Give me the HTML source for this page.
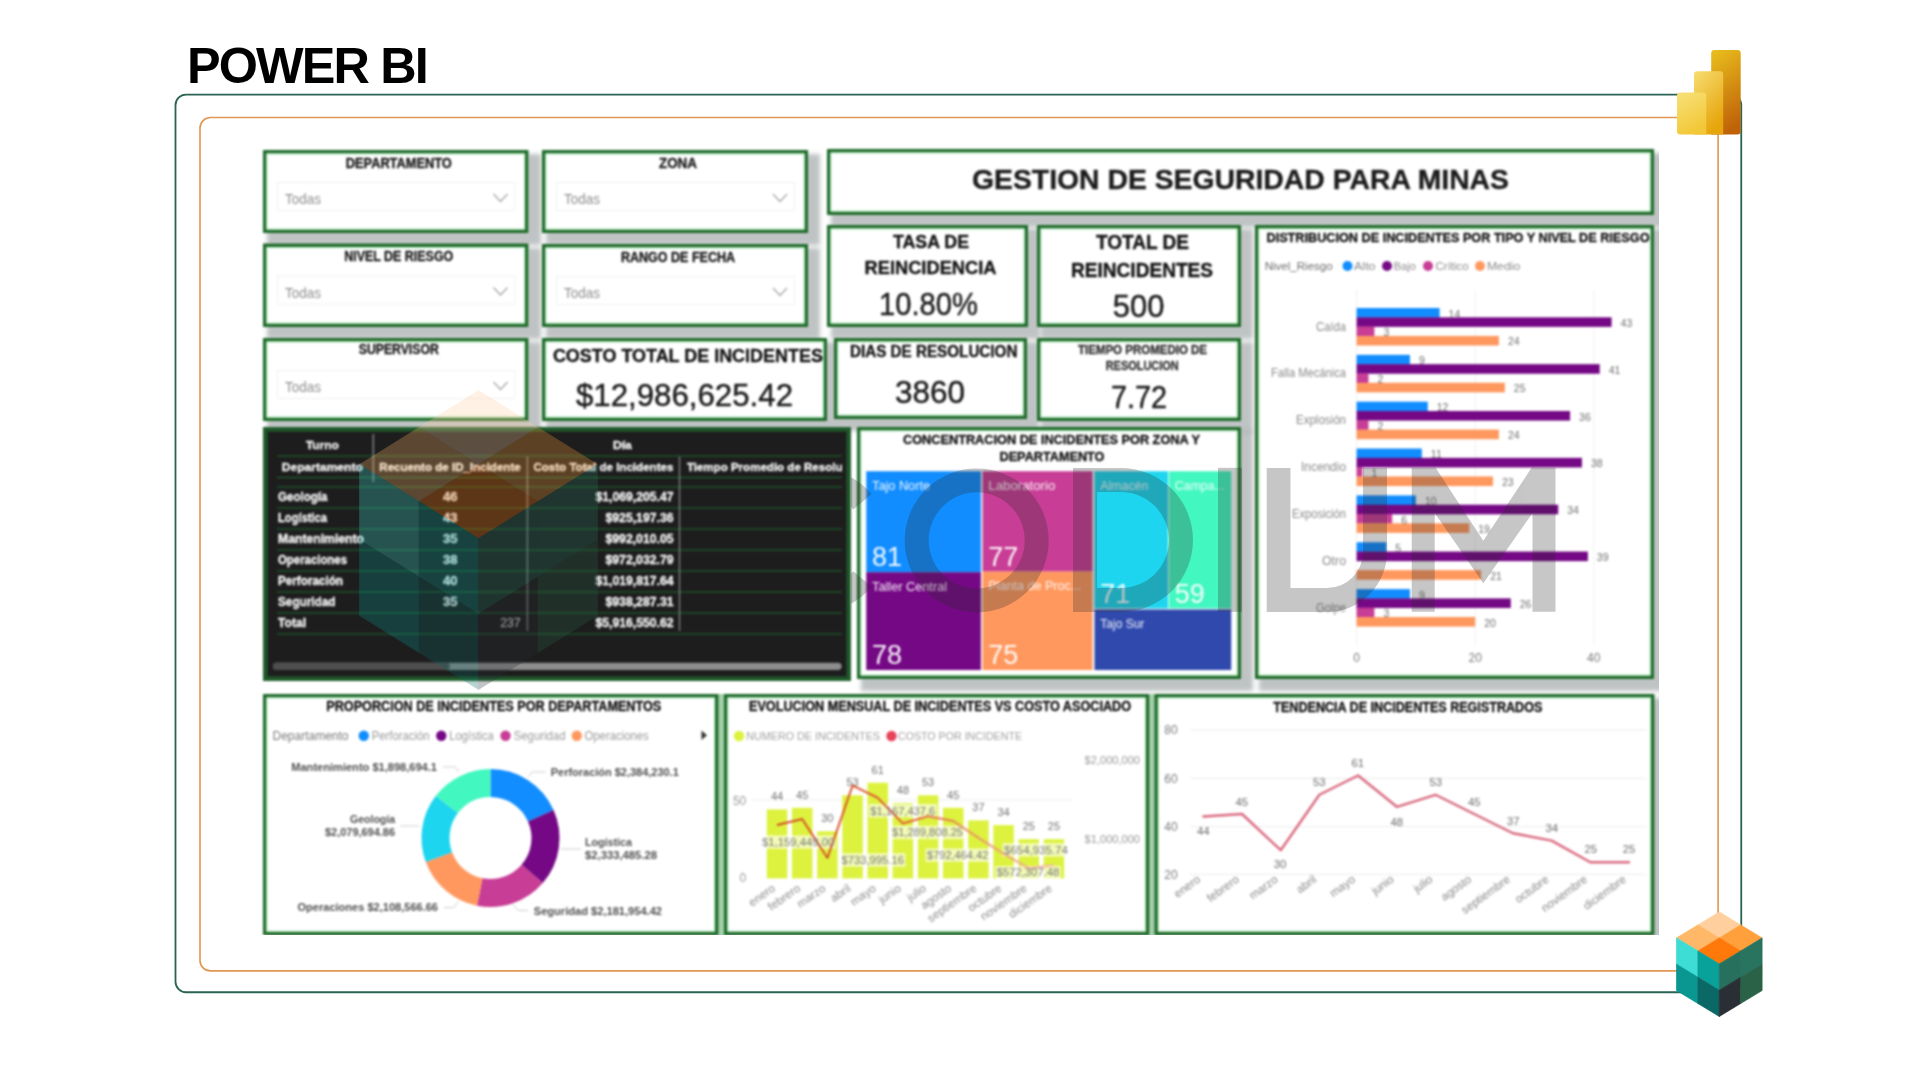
<!DOCTYPE html>
<html><head><meta charset="utf-8"><title>POWER BI</title>
<style>
html,body{margin:0;padding:0;background:#fff;}
body{width:1920px;height:1080px;position:relative;overflow:hidden;font-family:"Liberation Sans", sans-serif;}
#ttl{position:absolute;left:187px;top:38px;font-size:50.4px;font-weight:bold;color:#000;letter-spacing:-1.85px;line-height:56px;white-space:nowrap}
.fr{position:absolute;box-sizing:border-box;border-radius:11px}
#fg{left:175px;top:94px;width:1567px;height:899px;border:2px solid #2b6554}
#fo{left:199.5px;top:117px;width:1519px;height:855px;border:1.6px solid #e29a55}
#clip{position:absolute;left:0;top:0;width:1658.5px;height:934.8px;overflow:hidden}
#dash{position:absolute;left:0;top:0;width:1920px;height:1080px;filter:blur(0.9px)}
.card{position:absolute;background:#fff;box-shadow:8px 8px 4px 4px rgba(140,148,150,.56)}
.card.dark{background:#1d1d1d;box-shadow:none}
#dash svg{position:absolute;left:0;top:0}
svg text{font-family:"Liberation Sans", sans-serif}
</style></head><body>
<div id="ttl">POWER BI</div>
<svg style="position:absolute;left:0;top:0" width="1920" height="1080" viewBox="0 0 1920 1080">
<rect x="175.5" y="94.6" width="1565.75" height="897.65" rx="10.5" fill="none" stroke="#2a6353" stroke-width="1.8"/>
<rect x="200" y="117.5" width="1518.1" height="853.4" rx="10.5" fill="none" stroke="#E19752" stroke-width="1.6"/>
</svg>
<div id="clip"><div id="dash">
<div class="card" style="left:263px;top:150px;width:265.5px;height:83px"></div>
<div class="card" style="left:542px;top:150px;width:266px;height:83px"></div>
<div class="card" style="left:827px;top:149px;width:827px;height:66px"></div>
<div class="card" style="left:263px;top:243.5px;width:265.5px;height:83.5px"></div>
<div class="card" style="left:542px;top:244px;width:266px;height:83px"></div>
<div class="card" style="left:827px;top:225px;width:201px;height:102px"></div>
<div class="card" style="left:1037px;top:225px;width:204px;height:102px"></div>
<div class="card" style="left:1255px;top:225px;width:399px;height:454px"></div>
<div class="card" style="left:263px;top:338px;width:265.5px;height:83px"></div>
<div class="card" style="left:542px;top:338px;width:285px;height:83px"></div>
<div class="card" style="left:834px;top:338px;width:193px;height:81px"></div>
<div class="card" style="left:1037px;top:338px;width:204px;height:83px"></div>
<div class="card dark" style="left:263px;top:427px;width:588px;height:254px"></div>
<div class="card" style="left:857px;top:427px;width:384px;height:252px"></div>
<div class="card" style="left:263px;top:694px;width:455.5px;height:241.20000000000005px"></div>
<div class="card" style="left:724px;top:694px;width:425.20000000000005px;height:241.20000000000005px"></div>
<div class="card" style="left:1154.4px;top:694px;width:500.0px;height:241.20000000000005px"></div>
<svg width="1920" height="1080" viewBox="0 0 1920 1080">
<rect x="718.5" y="694" width="5.5" height="242" fill="#a3cfab"/><rect x="1149.2" y="694" width="5.2" height="242" fill="#a3cfab"/>
<rect x="264.75" y="151.75" width="262.00" height="79.50" fill="none" stroke="#1f6b2a" stroke-width="3.5"/>
<rect x="267.10" y="154.10" width="257.30" height="74.80" fill="none" stroke="#c4f2cd" stroke-width="1.3"/>
<rect x="543.75" y="151.75" width="262.50" height="79.50" fill="none" stroke="#1f6b2a" stroke-width="3.5"/>
<rect x="546.10" y="154.10" width="257.80" height="74.80" fill="none" stroke="#c4f2cd" stroke-width="1.3"/>
<rect x="828.75" y="150.75" width="823.50" height="62.50" fill="none" stroke="#1f6b2a" stroke-width="3.5"/>
<rect x="831.10" y="153.10" width="818.80" height="57.80" fill="none" stroke="#c4f2cd" stroke-width="1.3"/>
<rect x="264.75" y="245.25" width="262.00" height="80.00" fill="none" stroke="#1f6b2a" stroke-width="3.5"/>
<rect x="267.10" y="247.60" width="257.30" height="75.30" fill="none" stroke="#c4f2cd" stroke-width="1.3"/>
<rect x="543.75" y="245.75" width="262.50" height="79.50" fill="none" stroke="#1f6b2a" stroke-width="3.5"/>
<rect x="546.10" y="248.10" width="257.80" height="74.80" fill="none" stroke="#c4f2cd" stroke-width="1.3"/>
<rect x="828.75" y="226.75" width="197.50" height="98.50" fill="none" stroke="#1f6b2a" stroke-width="3.5"/>
<rect x="831.10" y="229.10" width="192.80" height="93.80" fill="none" stroke="#c4f2cd" stroke-width="1.3"/>
<rect x="1038.75" y="226.75" width="200.50" height="98.50" fill="none" stroke="#1f6b2a" stroke-width="3.5"/>
<rect x="1041.10" y="229.10" width="195.80" height="93.80" fill="none" stroke="#c4f2cd" stroke-width="1.3"/>
<rect x="1256.75" y="226.75" width="395.50" height="450.50" fill="none" stroke="#1f6b2a" stroke-width="3.5"/>
<rect x="1259.10" y="229.10" width="390.80" height="445.80" fill="none" stroke="#c4f2cd" stroke-width="1.3"/>
<rect x="264.75" y="339.75" width="262.00" height="79.50" fill="none" stroke="#1f6b2a" stroke-width="3.5"/>
<rect x="267.10" y="342.10" width="257.30" height="74.80" fill="none" stroke="#c4f2cd" stroke-width="1.3"/>
<rect x="543.75" y="339.75" width="281.50" height="79.50" fill="none" stroke="#1f6b2a" stroke-width="3.5"/>
<rect x="546.10" y="342.10" width="276.80" height="74.80" fill="none" stroke="#c4f2cd" stroke-width="1.3"/>
<rect x="835.75" y="339.75" width="189.50" height="77.50" fill="none" stroke="#1f6b2a" stroke-width="3.5"/>
<rect x="838.10" y="342.10" width="184.80" height="72.80" fill="none" stroke="#c4f2cd" stroke-width="1.3"/>
<rect x="1038.75" y="339.75" width="200.50" height="79.50" fill="none" stroke="#1f6b2a" stroke-width="3.5"/>
<rect x="1041.10" y="342.10" width="195.80" height="74.80" fill="none" stroke="#c4f2cd" stroke-width="1.3"/>
<rect x="264.75" y="428.75" width="584.50" height="250.50" fill="none" stroke="#1f5e2c" stroke-width="3.5"/>
<rect x="267.10" y="431.10" width="579.80" height="245.80" fill="none" stroke="#23552d" stroke-width="1.3"/>
<rect x="858.75" y="428.75" width="380.50" height="248.50" fill="none" stroke="#1f6b2a" stroke-width="3.5"/>
<rect x="861.10" y="431.10" width="375.80" height="243.80" fill="none" stroke="#c4f2cd" stroke-width="1.3"/>
<rect x="264.75" y="695.75" width="452.00" height="237.70" fill="none" stroke="#1f6b2a" stroke-width="3.5"/>
<rect x="267.10" y="698.10" width="447.30" height="233.00" fill="none" stroke="#c4f2cd" stroke-width="1.3"/>
<rect x="725.75" y="695.75" width="421.70" height="237.70" fill="none" stroke="#1f6b2a" stroke-width="3.5"/>
<rect x="728.10" y="698.10" width="417.00" height="233.00" fill="none" stroke="#c4f2cd" stroke-width="1.3"/>
<rect x="1156.15" y="695.75" width="496.50" height="237.70" fill="none" stroke="#1f6b2a" stroke-width="3.5"/>
<rect x="1158.50" y="698.10" width="491.80" height="233.00" fill="none" stroke="#c4f2cd" stroke-width="1.3"/>
<text x="398.75" y="167.5" font-size="14" font-weight="bold" stroke="#1a1a1a" stroke-width=".35" fill="#1a1a1a" text-anchor="middle" textLength="106" lengthAdjust="spacingAndGlyphs">DEPARTAMENTO</text>
<rect x="277.5" y="182.5" width="237.5" height="28" fill="#fff" stroke="#f1f1f1" stroke-width="1"/>
<text x="285" y="204" font-size="14.5" fill="#8f8f8f" textLength="36" lengthAdjust="spacingAndGlyphs">Todas</text>
<path d="M493.5 194 l7 7.5 l7 -7.5" fill="none" stroke="#a8a8a8" stroke-width="1.3"/>
<text x="678.0" y="167.5" font-size="14" font-weight="bold" stroke="#1a1a1a" stroke-width=".35" fill="#1a1a1a" text-anchor="middle" textLength="38" lengthAdjust="spacingAndGlyphs">ZONA</text>
<rect x="556.5" y="182.5" width="238" height="28" fill="#fff" stroke="#f1f1f1" stroke-width="1"/>
<text x="564" y="204" font-size="14.5" fill="#8f8f8f" textLength="36" lengthAdjust="spacingAndGlyphs">Todas</text>
<path d="M773 194 l7 7.5 l7 -7.5" fill="none" stroke="#a8a8a8" stroke-width="1.3"/>
<text x="398.75" y="261.0" font-size="14" font-weight="bold" stroke="#1a1a1a" stroke-width=".35" fill="#1a1a1a" text-anchor="middle" textLength="109" lengthAdjust="spacingAndGlyphs">NIVEL DE RIESGO</text>
<rect x="277.5" y="276.0" width="237.5" height="28" fill="#fff" stroke="#f1f1f1" stroke-width="1"/>
<text x="285" y="297.5" font-size="14.5" fill="#8f8f8f" textLength="36" lengthAdjust="spacingAndGlyphs">Todas</text>
<path d="M493.5 287.5 l7 7.5 l7 -7.5" fill="none" stroke="#a8a8a8" stroke-width="1.3"/>
<text x="678.0" y="261.5" font-size="14" font-weight="bold" stroke="#1a1a1a" stroke-width=".35" fill="#1a1a1a" text-anchor="middle" textLength="114" lengthAdjust="spacingAndGlyphs">RANGO DE FECHA</text>
<rect x="556.5" y="276.5" width="238" height="28" fill="#fff" stroke="#f1f1f1" stroke-width="1"/>
<text x="564" y="298" font-size="14.5" fill="#8f8f8f" textLength="36" lengthAdjust="spacingAndGlyphs">Todas</text>
<path d="M773 288 l7 7.5 l7 -7.5" fill="none" stroke="#a8a8a8" stroke-width="1.3"/>
<text x="398.75" y="354.0" font-size="14" font-weight="bold" stroke="#1a1a1a" stroke-width=".35" fill="#1a1a1a" text-anchor="middle" textLength="80" lengthAdjust="spacingAndGlyphs">SUPERVISOR</text>
<rect x="277.5" y="370.5" width="237.5" height="28" fill="#fff" stroke="#f1f1f1" stroke-width="1"/>
<text x="285" y="392" font-size="14.5" fill="#8f8f8f" textLength="36" lengthAdjust="spacingAndGlyphs">Todas</text>
<path d="M493.5 382 l7 7.5 l7 -7.5" fill="none" stroke="#a8a8a8" stroke-width="1.3"/>
<text x="1240.5" y="189" font-size="28" font-weight="bold" stroke="#1c1c1c" stroke-width=".35" fill="#1c1c1c" text-anchor="middle" textLength="537" lengthAdjust="spacingAndGlyphs">GESTION DE SEGURIDAD PARA MINAS</text>
<text x="931" y="248" font-size="17.5" font-weight="bold" stroke="#141414" stroke-width=".35" fill="#141414" text-anchor="middle" textLength="76" lengthAdjust="spacingAndGlyphs">TASA DE</text>
<text x="930.5" y="273.5" font-size="17.5" font-weight="bold" stroke="#141414" stroke-width=".35" fill="#141414" text-anchor="middle" textLength="132" lengthAdjust="spacingAndGlyphs">REINCIDENCIA</text>
<text x="928.5" y="315" font-size="32" fill="#1a1a1a" text-anchor="middle" textLength="99" lengthAdjust="spacingAndGlyphs" stroke="#1a1a1a" stroke-width=".45">10.80%</text>
<text x="1142.5" y="249" font-size="19.5" font-weight="bold" stroke="#141414" stroke-width=".35" fill="#141414" text-anchor="middle" textLength="93" lengthAdjust="spacingAndGlyphs">TOTAL DE</text>
<text x="1142" y="277" font-size="19.5" font-weight="bold" stroke="#141414" stroke-width=".35" fill="#141414" text-anchor="middle" textLength="142" lengthAdjust="spacingAndGlyphs">REINCIDENTES</text>
<text x="1138.6" y="316.5" font-size="32" fill="#1a1a1a" text-anchor="middle" textLength="51.6" lengthAdjust="spacingAndGlyphs" stroke="#1a1a1a" stroke-width=".45">500</text>
<text x="687.9" y="362.3" font-size="18" font-weight="bold" stroke="#141414" stroke-width=".35" fill="#141414" text-anchor="middle" textLength="270" lengthAdjust="spacingAndGlyphs">COSTO TOTAL DE INCIDENTES</text>
<text x="684.5" y="406" font-size="31" fill="#1a1a1a" text-anchor="middle" textLength="217" lengthAdjust="spacingAndGlyphs" stroke="#1a1a1a" stroke-width=".45">$12,986,625.42</text>
<text x="933.7" y="357.3" font-size="16" font-weight="bold" stroke="#141414" stroke-width=".35" fill="#141414" text-anchor="middle" textLength="167.5" lengthAdjust="spacingAndGlyphs">DIAS DE RESOLUCION</text>
<text x="930" y="402.7" font-size="32" fill="#1a1a1a" text-anchor="middle" textLength="70" lengthAdjust="spacingAndGlyphs" stroke="#1a1a1a" stroke-width=".45">3860</text>
<text x="1142.5" y="354" font-size="12" font-weight="bold" stroke="#333" stroke-width=".35" fill="#333" text-anchor="middle" textLength="129" lengthAdjust="spacingAndGlyphs">TIEMPO PROMEDIO DE</text>
<text x="1142.2" y="369.7" font-size="12" font-weight="bold" stroke="#333" stroke-width=".35" fill="#333" text-anchor="middle" textLength="73" lengthAdjust="spacingAndGlyphs">RESOLUCION</text>
<text x="1139" y="408.4" font-size="32" fill="#1a1a1a" text-anchor="middle" textLength="56" lengthAdjust="spacingAndGlyphs" stroke="#1a1a1a" stroke-width=".45">7.72</text>
<text x="1458" y="242" font-size="13.5" font-weight="bold" stroke="#141414" stroke-width=".35" fill="#141414" text-anchor="middle" textLength="383" lengthAdjust="spacingAndGlyphs">DISTRIBUCION DE INCIDENTES POR TIPO Y NIVEL DE RIESGO</text>
<text x="1264.7" y="270.4" font-size="11.5" fill="#6a6a6a" textLength="68" lengthAdjust="spacingAndGlyphs">Nivel_Riesgo</text>
<circle cx="1347.5" cy="266" r="5" fill="#118DFF"/>
<text x="1354" y="270.4" font-size="11.5" fill="#8a8a8a" textLength="21.6" lengthAdjust="spacingAndGlyphs">Alto</text>
<circle cx="1387" cy="266" r="5" fill="#750985"/>
<text x="1393.8" y="270.4" font-size="11.5" fill="#8a8a8a" textLength="22" lengthAdjust="spacingAndGlyphs">Bajo</text>
<circle cx="1428" cy="266" r="5" fill="#C83D95"/>
<text x="1435.6" y="270.4" font-size="11.5" fill="#8a8a8a" textLength="33" lengthAdjust="spacingAndGlyphs">Crítico</text>
<circle cx="1480" cy="266" r="5" fill="#FF985E"/>
<text x="1486.9" y="270.4" font-size="11.5" fill="#8a8a8a" textLength="33.4" lengthAdjust="spacingAndGlyphs">Medio</text>
<line x1="1356.6" y1="290" x2="1356.6" y2="645" stroke="#efefef" stroke-width="1"/>
<text x="1356.6" y="661.5" font-size="12" fill="#7a7a7a" text-anchor="middle">0</text>
<line x1="1475.2" y1="290" x2="1475.2" y2="645" stroke="#efefef" stroke-width="1"/>
<text x="1475.1999999999998" y="661.5" font-size="12" fill="#7a7a7a" text-anchor="middle">20</text>
<line x1="1593.8" y1="290" x2="1593.8" y2="645" stroke="#efefef" stroke-width="1"/>
<text x="1593.8" y="661.5" font-size="12" fill="#7a7a7a" text-anchor="middle">40</text>
<text x="1346" y="330.5" font-size="12" fill="#8a8a8a" text-anchor="end" textLength="30" lengthAdjust="spacingAndGlyphs">Caída</text>
<rect x="1356.60" y="308.00" width="83.02" height="9.60" fill="#118DFF"/>
<rect x="1356.60" y="317.30" width="254.99" height="9.60" fill="#750985"/>
<rect x="1356.60" y="326.60" width="17.79" height="9.60" fill="#C83D95"/>
<rect x="1356.60" y="335.90" width="142.32" height="9.60" fill="#FF985E"/>
<text x="1448.62" y="317.5" font-size="10.5" fill="#6e6e6e">14</text>
<text x="1620.59" y="326.8" font-size="10.5" fill="#6e6e6e">43</text>
<text x="1383.3899999999999" y="336.1" font-size="10.5" fill="#6e6e6e">3</text>
<text x="1507.9199999999998" y="345.4" font-size="10.5" fill="#6e6e6e">24</text>
<text x="1346" y="377.35" font-size="12" fill="#8a8a8a" text-anchor="end" textLength="75" lengthAdjust="spacingAndGlyphs">Falla Mecánica</text>
<rect x="1356.60" y="354.85" width="53.37" height="9.60" fill="#118DFF"/>
<rect x="1356.60" y="364.15" width="243.13" height="9.60" fill="#750985"/>
<rect x="1356.60" y="373.45" width="11.86" height="9.60" fill="#C83D95"/>
<rect x="1356.60" y="382.75" width="148.25" height="9.60" fill="#FF985E"/>
<text x="1418.9699999999998" y="364.35" font-size="10.5" fill="#6e6e6e">9</text>
<text x="1608.73" y="373.65000000000003" font-size="10.5" fill="#6e6e6e">41</text>
<text x="1377.4599999999998" y="382.95000000000005" font-size="10.5" fill="#6e6e6e">2</text>
<text x="1513.85" y="392.25" font-size="10.5" fill="#6e6e6e">25</text>
<text x="1346" y="424.2" font-size="12" fill="#8a8a8a" text-anchor="end" textLength="50" lengthAdjust="spacingAndGlyphs">Explosión</text>
<rect x="1356.60" y="401.70" width="71.16" height="9.60" fill="#118DFF"/>
<rect x="1356.60" y="411.00" width="213.48" height="9.60" fill="#750985"/>
<rect x="1356.60" y="420.30" width="11.86" height="9.60" fill="#C83D95"/>
<rect x="1356.60" y="429.60" width="142.32" height="9.60" fill="#FF985E"/>
<text x="1436.76" y="411.2" font-size="10.5" fill="#6e6e6e">12</text>
<text x="1579.08" y="420.5" font-size="10.5" fill="#6e6e6e">36</text>
<text x="1377.4599999999998" y="429.8" font-size="10.5" fill="#6e6e6e">2</text>
<text x="1507.9199999999998" y="439.09999999999997" font-size="10.5" fill="#6e6e6e">24</text>
<text x="1346" y="471.05" font-size="12" fill="#8a8a8a" text-anchor="end" textLength="45" lengthAdjust="spacingAndGlyphs">Incendio</text>
<rect x="1356.60" y="448.55" width="65.23" height="9.60" fill="#118DFF"/>
<rect x="1356.60" y="457.85" width="225.34" height="9.60" fill="#750985"/>
<rect x="1356.60" y="467.15" width="5.93" height="9.60" fill="#C83D95"/>
<rect x="1356.60" y="476.45" width="136.39" height="9.60" fill="#FF985E"/>
<text x="1430.83" y="458.05" font-size="10.5" fill="#6e6e6e">11</text>
<text x="1590.9399999999998" y="467.35" font-size="10.5" fill="#6e6e6e">38</text>
<text x="1371.53" y="476.65000000000003" font-size="10.5" fill="#6e6e6e">1</text>
<text x="1501.9899999999998" y="485.95" font-size="10.5" fill="#6e6e6e">23</text>
<text x="1346" y="517.9" font-size="12" fill="#8a8a8a" text-anchor="end" textLength="54" lengthAdjust="spacingAndGlyphs">Exposición</text>
<rect x="1356.60" y="495.40" width="59.30" height="9.60" fill="#118DFF"/>
<rect x="1356.60" y="504.70" width="201.62" height="9.60" fill="#750985"/>
<rect x="1356.60" y="514.00" width="35.58" height="9.60" fill="#C83D95"/>
<rect x="1356.60" y="523.30" width="112.67" height="9.60" fill="#FF985E"/>
<text x="1424.8999999999999" y="504.9" font-size="10.5" fill="#6e6e6e">10</text>
<text x="1567.2199999999998" y="514.2" font-size="10.5" fill="#6e6e6e">34</text>
<text x="1401.1799999999998" y="523.5" font-size="10.5" fill="#6e6e6e">6</text>
<text x="1478.27" y="532.8" font-size="10.5" fill="#6e6e6e">19</text>
<text x="1346" y="564.75" font-size="12" fill="#8a8a8a" text-anchor="end" textLength="24" lengthAdjust="spacingAndGlyphs">Otro</text>
<rect x="1356.60" y="542.25" width="29.65" height="9.60" fill="#118DFF"/>
<rect x="1356.60" y="551.55" width="231.27" height="9.60" fill="#750985"/>
<rect x="1356.60" y="570.15" width="124.53" height="9.60" fill="#FF985E"/>
<text x="1395.25" y="551.75" font-size="10.5" fill="#6e6e6e">5</text>
<text x="1596.87" y="561.05" font-size="10.5" fill="#6e6e6e">39</text>
<text x="1490.1299999999999" y="579.65" font-size="10.5" fill="#6e6e6e">21</text>
<text x="1346" y="611.6" font-size="12" fill="#8a8a8a" text-anchor="end" textLength="30" lengthAdjust="spacingAndGlyphs">Golpe</text>
<rect x="1356.60" y="589.10" width="53.37" height="9.60" fill="#118DFF"/>
<rect x="1356.60" y="598.40" width="154.18" height="9.60" fill="#750985"/>
<rect x="1356.60" y="607.70" width="17.79" height="9.60" fill="#C83D95"/>
<rect x="1356.60" y="617.00" width="118.60" height="9.60" fill="#FF985E"/>
<text x="1418.9699999999998" y="598.6" font-size="10.5" fill="#6e6e6e">9</text>
<text x="1519.78" y="607.9" font-size="10.5" fill="#6e6e6e">26</text>
<text x="1383.3899999999999" y="617.2" font-size="10.5" fill="#6e6e6e">3</text>
<text x="1484.1999999999998" y="626.5" font-size="10.5" fill="#6e6e6e">20</text>
<line x1="277" y1="456" x2="842" y2="456" stroke="#1f7a35" stroke-width="1" opacity=".85"/>
<line x1="277" y1="477.5" x2="842" y2="477.5" stroke="#1f7a35" stroke-width="1" opacity=".85"/>
<line x1="277" y1="487" x2="842" y2="487" stroke="#1f7a35" stroke-width="1" opacity=".85"/>
<line x1="277" y1="508" x2="842" y2="508" stroke="#1f7a35" stroke-width="1" opacity=".85"/>
<line x1="277" y1="529" x2="842" y2="529" stroke="#1f7a35" stroke-width="1" opacity=".85"/>
<line x1="277" y1="550" x2="842" y2="550" stroke="#1f7a35" stroke-width="1" opacity=".85"/>
<line x1="277" y1="571" x2="842" y2="571" stroke="#1f7a35" stroke-width="1" opacity=".85"/>
<line x1="277" y1="592" x2="842" y2="592" stroke="#1f7a35" stroke-width="1" opacity=".85"/>
<line x1="277" y1="613" x2="842" y2="613" stroke="#1f7a35" stroke-width="1" opacity=".85"/>
<line x1="277" y1="634" x2="842" y2="634" stroke="#1f7a35" stroke-width="1" opacity=".85"/>
<line x1="373.3" y1="434" x2="373.3" y2="482" stroke="#9a9a9a" stroke-width="1.2"/>
<line x1="527.4" y1="456.5" x2="527.4" y2="631" stroke="#8a8a8a" stroke-width="1.2"/>
<line x1="679.5" y1="456.5" x2="679.5" y2="631" stroke="#8a8a8a" stroke-width="1.2"/>
<text x="322.4" y="448.6" font-size="11.5" font-weight="bold" stroke="#f4f4f4" stroke-width=".35" fill="#f4f4f4" text-anchor="middle" textLength="33" lengthAdjust="spacingAndGlyphs">Turno</text>
<text x="622.4" y="448.6" font-size="11.5" font-weight="bold" stroke="#f4f4f4" stroke-width=".35" fill="#f4f4f4" text-anchor="middle" textLength="19" lengthAdjust="spacingAndGlyphs">Día</text>
<text x="281.8" y="470.8" font-size="11.5" font-weight="bold" stroke="#f4f4f4" stroke-width=".35" fill="#f4f4f4" textLength="81" lengthAdjust="spacingAndGlyphs">Departamento</text>
<text x="379.3" y="470.8" font-size="11.5" font-weight="bold" stroke="#f4f4f4" stroke-width=".35" fill="#f4f4f4" textLength="141.4" lengthAdjust="spacingAndGlyphs">Recuento de ID_Incidente</text>
<text x="533.4" y="470.8" font-size="11.5" font-weight="bold" stroke="#f4f4f4" stroke-width=".35" fill="#f4f4f4" textLength="140" lengthAdjust="spacingAndGlyphs">Costo Total de Incidentes</text>
<text x="686.9" y="470.8" font-size="11.5" font-weight="bold" stroke="#f4f4f4" stroke-width=".35" fill="#f4f4f4" textLength="155.6" lengthAdjust="spacingAndGlyphs">Tiempo Promedio de Resolu</text>
<text x="278" y="501.0" font-size="12" font-weight="bold" stroke="#f4f4f4" stroke-width=".35" fill="#f4f4f4" textLength="49.5" lengthAdjust="spacingAndGlyphs">Geología</text>
<text x="450.2" y="501.0" font-size="12" font-weight="bold" stroke="#e8eef0" stroke-width=".35" fill="#e8eef0" text-anchor="middle" textLength="14.5" lengthAdjust="spacingAndGlyphs">46</text>
<text x="673.5" y="501.0" font-size="12" font-weight="bold" stroke="#f4f4f4" stroke-width=".35" fill="#f4f4f4" text-anchor="end" textLength="78" lengthAdjust="spacingAndGlyphs">$1,069,205.47</text>
<text x="278" y="521.95" font-size="12" font-weight="bold" stroke="#f4f4f4" stroke-width=".35" fill="#f4f4f4" textLength="49" lengthAdjust="spacingAndGlyphs">Logística</text>
<text x="450.2" y="521.95" font-size="12" font-weight="bold" stroke="#e8eef0" stroke-width=".35" fill="#e8eef0" text-anchor="middle" textLength="14.5" lengthAdjust="spacingAndGlyphs">43</text>
<text x="673.5" y="521.95" font-size="12" font-weight="bold" stroke="#f4f4f4" stroke-width=".35" fill="#f4f4f4" text-anchor="end" textLength="68" lengthAdjust="spacingAndGlyphs">$925,197.36</text>
<text x="278" y="542.9" font-size="12" font-weight="bold" stroke="#f4f4f4" stroke-width=".35" fill="#f4f4f4" textLength="86" lengthAdjust="spacingAndGlyphs">Mantenimiento</text>
<text x="450.2" y="542.9" font-size="12" font-weight="bold" stroke="#e8eef0" stroke-width=".35" fill="#e8eef0" text-anchor="middle" textLength="14.5" lengthAdjust="spacingAndGlyphs">35</text>
<text x="673.5" y="542.9" font-size="12" font-weight="bold" stroke="#f4f4f4" stroke-width=".35" fill="#f4f4f4" text-anchor="end" textLength="68" lengthAdjust="spacingAndGlyphs">$992,010.05</text>
<text x="278" y="563.85" font-size="12" font-weight="bold" stroke="#f4f4f4" stroke-width=".35" fill="#f4f4f4" textLength="69" lengthAdjust="spacingAndGlyphs">Operaciones</text>
<text x="450.2" y="563.85" font-size="12" font-weight="bold" stroke="#e8eef0" stroke-width=".35" fill="#e8eef0" text-anchor="middle" textLength="14.5" lengthAdjust="spacingAndGlyphs">38</text>
<text x="673.5" y="563.85" font-size="12" font-weight="bold" stroke="#f4f4f4" stroke-width=".35" fill="#f4f4f4" text-anchor="end" textLength="68" lengthAdjust="spacingAndGlyphs">$972,032.79</text>
<text x="278" y="584.8" font-size="12" font-weight="bold" stroke="#f4f4f4" stroke-width=".35" fill="#f4f4f4" textLength="65" lengthAdjust="spacingAndGlyphs">Perforación</text>
<text x="450.2" y="584.8" font-size="12" font-weight="bold" stroke="#e8eef0" stroke-width=".35" fill="#e8eef0" text-anchor="middle" textLength="14.5" lengthAdjust="spacingAndGlyphs">40</text>
<text x="673.5" y="584.8" font-size="12" font-weight="bold" stroke="#f4f4f4" stroke-width=".35" fill="#f4f4f4" text-anchor="end" textLength="78" lengthAdjust="spacingAndGlyphs">$1,019,817.64</text>
<text x="278" y="605.75" font-size="12" font-weight="bold" stroke="#f4f4f4" stroke-width=".35" fill="#f4f4f4" textLength="57.5" lengthAdjust="spacingAndGlyphs">Seguridad</text>
<text x="450.2" y="605.75" font-size="12" font-weight="bold" stroke="#e8eef0" stroke-width=".35" fill="#e8eef0" text-anchor="middle" textLength="14.5" lengthAdjust="spacingAndGlyphs">35</text>
<text x="673.5" y="605.75" font-size="12" font-weight="bold" stroke="#f4f4f4" stroke-width=".35" fill="#f4f4f4" text-anchor="end" textLength="68" lengthAdjust="spacingAndGlyphs">$938,287.31</text>
<text x="278" y="626.5" font-size="12" font-weight="bold" stroke="#f4f4f4" stroke-width=".35" fill="#f4f4f4" textLength="28" lengthAdjust="spacingAndGlyphs">Total</text>
<text x="520.7" y="626.5" font-size="12" fill="#dcdcdc" text-anchor="end" textLength="20.5" lengthAdjust="spacingAndGlyphs">237</text>
<text x="673.5" y="626.5" font-size="12" font-weight="bold" stroke="#f4f4f4" stroke-width=".35" fill="#f4f4f4" text-anchor="end" textLength="78" lengthAdjust="spacingAndGlyphs">$5,916,550.62</text>
<rect x="272.9" y="662.7" width="568.7" height="7.2" rx="3.6" fill="#8d8d8d"/>
<rect x="272.9" y="662.7" width="177" height="7.2" rx="3.6" fill="#4e4e4e"/>
<text x="1051.5" y="443.75" font-size="13" font-weight="bold" stroke="#141414" stroke-width=".35" fill="#141414" text-anchor="middle" textLength="297" lengthAdjust="spacingAndGlyphs">CONCENTRACION DE INCIDENTES POR ZONA Y</text>
<text x="1052" y="461.25" font-size="13" font-weight="bold" stroke="#141414" stroke-width=".35" fill="#141414" text-anchor="middle" textLength="105" lengthAdjust="spacingAndGlyphs">DEPARTAMENTO</text>
<rect x="866.25" y="471.25" width="114.65" height="100.95" fill="#118DFF"/>
<text x="872.05" y="489.55" font-size="13.5" fill="#ffffff" textLength="58" lengthAdjust="spacingAndGlyphs" opacity=".93">Tajo Norte</text>
<text x="872.05" y="566.3000000000001" font-size="28" fill="#ffffff" textLength="30" lengthAdjust="spacingAndGlyphs" opacity=".95">81</text>
<rect x="866.25" y="572.20" width="114.65" height="97.80" fill="#750985"/>
<text x="872.05" y="590.5" font-size="13.5" fill="#ffffff" textLength="75" lengthAdjust="spacingAndGlyphs" opacity=".93">Taller Central</text>
<text x="872.05" y="664.1" font-size="28" fill="#ffffff" textLength="30" lengthAdjust="spacingAndGlyphs" opacity=".95">78</text>
<rect x="982.50" y="471.25" width="110.00" height="100.35" fill="#C83D95"/>
<text x="988.3" y="489.55" font-size="13.5" fill="#ffffff" textLength="67" lengthAdjust="spacingAndGlyphs" opacity=".93">Laboratorio</text>
<text x="988.3" y="565.7" font-size="28" fill="#ffffff" textLength="30" lengthAdjust="spacingAndGlyphs" opacity=".95">77</text>
<rect x="982.50" y="571.60" width="110.00" height="98.40" fill="#FF985E"/>
<text x="988.3" y="589.9" font-size="13.5" fill="#ffffff" textLength="93" lengthAdjust="spacingAndGlyphs" opacity=".93">Planta de Proc...</text>
<text x="988.3" y="664.1" font-size="28" fill="#ffffff" textLength="30" lengthAdjust="spacingAndGlyphs" opacity=".95">75</text>
<rect x="1094.50" y="471.25" width="73.50" height="137.15" fill="#1DD5EE"/>
<text x="1100.3" y="489.55" font-size="13.5" fill="#ffffff" textLength="48" lengthAdjust="spacingAndGlyphs" opacity=".93">Almacén</text>
<text x="1100.3" y="602.5" font-size="28" fill="#ffffff" textLength="30" lengthAdjust="spacingAndGlyphs" opacity=".95">71</text>
<rect x="1168.90" y="471.25" width="62.35" height="137.15" fill="#42F7C0"/>
<text x="1174.7" y="489.55" font-size="13.5" fill="#ffffff" textLength="50" lengthAdjust="spacingAndGlyphs" opacity=".93">Campa...</text>
<text x="1174.7" y="602.5" font-size="28" fill="#ffffff" textLength="30" lengthAdjust="spacingAndGlyphs" opacity=".95">59</text>
<rect x="1094.50" y="609.50" width="136.75" height="60.50" fill="#3049AD"/>
<text x="1100.3" y="627.8" font-size="13.5" fill="#ffffff" textLength="44" lengthAdjust="spacingAndGlyphs" opacity=".93">Tajo Sur</text>
<text x="493.75" y="711.25" font-size="14" font-weight="bold" stroke="#141414" stroke-width=".35" fill="#141414" text-anchor="middle" textLength="335" lengthAdjust="spacingAndGlyphs">PROPORCION DE INCIDENTES POR DEPARTAMENTOS</text>
<text x="272.5" y="739.5" font-size="12" fill="#7a7a7a" textLength="76" lengthAdjust="spacingAndGlyphs">Departamento</text>
<circle cx="363.75" cy="735.75" r="5.2" fill="#118DFF"/>
<text x="371.75" y="739.5" font-size="12" fill="#9a9a9a" textLength="57.7" lengthAdjust="spacingAndGlyphs">Perforación</text>
<circle cx="441.25" cy="735.75" r="5.2" fill="#750985"/>
<text x="449.25" y="739.5" font-size="12" fill="#9a9a9a" textLength="44.5" lengthAdjust="spacingAndGlyphs">Logística</text>
<circle cx="505.5" cy="735.75" r="5.2" fill="#C83D95"/>
<text x="513.75" y="739.5" font-size="12" fill="#9a9a9a" textLength="51.7" lengthAdjust="spacingAndGlyphs">Seguridad</text>
<circle cx="576.75" cy="735.75" r="5.2" fill="#FF985E"/>
<text x="584.5" y="739.5" font-size="12" fill="#9a9a9a" textLength="64.2" lengthAdjust="spacingAndGlyphs">Operaciones</text>
<path d="M701.5 730.5 L707 735.2 L701.5 740 Z" fill="#333"/>
<path d="M490.50 769.00 A69 69 0 0 1 553.58 810.04 L527.98 821.38 A41 41 0 0 0 490.50 797.00 Z" fill="#118DFF"/>
<path d="M553.58 810.04 A69 69 0 0 1 542.75 883.07 L521.55 864.78 A41 41 0 0 0 527.98 821.38 Z" fill="#750985"/>
<path d="M542.75 883.07 A69 69 0 0 1 477.02 905.67 L482.49 878.21 A41 41 0 0 0 521.55 864.78 Z" fill="#C83D95"/>
<path d="M477.02 905.67 A69 69 0 0 1 425.78 861.92 L452.04 852.21 A41 41 0 0 0 482.49 878.21 Z" fill="#FF985E"/>
<path d="M425.78 861.92 A69 69 0 0 1 435.66 796.12 L457.91 813.12 A41 41 0 0 0 452.04 852.21 Z" fill="#1DD5EE"/>
<path d="M435.66 796.12 A69 69 0 0 1 490.50 769.00 L490.50 797.00 A41 41 0 0 0 457.91 813.12 Z" fill="#42F7C0"/>
<text x="437" y="771.25" font-size="11.5" font-weight="bold" fill="#505050" text-anchor="end" textLength="145.75" lengthAdjust="spacingAndGlyphs">Mantenimiento $1,898,694.1</text>
<text x="550.75" y="776.25" font-size="11.5" font-weight="bold" fill="#505050" textLength="128" lengthAdjust="spacingAndGlyphs">Perforación $2,384,230.1</text>
<text x="395" y="823" font-size="11.5" font-weight="bold" fill="#505050" text-anchor="end" textLength="45" lengthAdjust="spacingAndGlyphs">Geología</text>
<text x="395" y="836.25" font-size="11.5" font-weight="bold" fill="#505050" text-anchor="end" textLength="70" lengthAdjust="spacingAndGlyphs">$2,079,694.86</text>
<text x="585" y="845.5" font-size="11.5" font-weight="bold" fill="#505050" textLength="47" lengthAdjust="spacingAndGlyphs">Logística</text>
<text x="585" y="858.75" font-size="11.5" font-weight="bold" fill="#505050" textLength="72" lengthAdjust="spacingAndGlyphs">$2,333,485.28</text>
<text x="438" y="911.25" font-size="11.5" font-weight="bold" fill="#505050" text-anchor="end" textLength="140.5" lengthAdjust="spacingAndGlyphs">Operaciones $2,108,566.66</text>
<text x="533.75" y="914.5" font-size="11.5" font-weight="bold" fill="#505050" textLength="128.25" lengthAdjust="spacingAndGlyphs">Seguridad $2,181,954.42</text>
<path d="M443 767 h12 l4 5" fill="none" stroke="#cfcfcf" stroke-width="1"/>
<path d="M546 772 h-14 l-4 5" fill="none" stroke="#cfcfcf" stroke-width="1"/>
<path d="M400 826 h19" fill="none" stroke="#cfcfcf" stroke-width="1"/>
<path d="M581 849 h-20" fill="none" stroke="#cfcfcf" stroke-width="1"/>
<path d="M444 907.5 h10 l4 -6" fill="none" stroke="#cfcfcf" stroke-width="1"/>
<path d="M528 910.5 h-10 l-5 -6" fill="none" stroke="#cfcfcf" stroke-width="1"/>
<text x="940" y="711" font-size="14" font-weight="bold" stroke="#141414" stroke-width=".35" fill="#141414" text-anchor="middle" textLength="382" lengthAdjust="spacingAndGlyphs">EVOLUCION MENSUAL DE INCIDENTES VS COSTO ASOCIADO</text>
<circle cx="739" cy="736" r="5.2" fill="#DDF23E"/>
<text x="746.3" y="740" font-size="11" fill="#a2a2a2" textLength="133.7" lengthAdjust="spacingAndGlyphs">NUMERO DE INCIDENTES</text>
<circle cx="891.5" cy="736" r="5.2" fill="#E8425A"/>
<text x="898" y="740" font-size="11" fill="#a2a2a2" textLength="124" lengthAdjust="spacingAndGlyphs">COSTO POR INCIDENTE</text>
<text x="746.3" y="804.7" font-size="12" fill="#9a9a9a" text-anchor="end">50</text>
<text x="746.3" y="882" font-size="12" fill="#9a9a9a" text-anchor="end">0</text>
<text x="1140" y="764" font-size="11.5" fill="#9a9a9a" text-anchor="end" textLength="55.4" lengthAdjust="spacingAndGlyphs">$2,000,000</text>
<text x="1140" y="843.3" font-size="11.5" fill="#9a9a9a" text-anchor="end" textLength="55.4" lengthAdjust="spacingAndGlyphs">$1,000,000</text>
<line x1="752" y1="800" x2="1072" y2="800" stroke="#eeeeee" stroke-width="1"/>
<rect x="766.80" y="809.41" width="20.50" height="68.99" fill="#DDF23E"/>
<text x="777.05" y="800.408" font-size="11" fill="#727272" text-anchor="middle">44</text>
<text transform="translate(776.0 890) rotate(-35)" font-size="11.5" fill="#8c8c8c" text-anchor="end">enero</text>
<rect x="791.97" y="807.84" width="20.50" height="70.56" fill="#DDF23E"/>
<text x="802.2199999999999" y="798.8399999999999" font-size="11" fill="#727272" text-anchor="middle">45</text>
<text transform="translate(801.2 890) rotate(-35)" font-size="11.5" fill="#8c8c8c" text-anchor="end">febrero</text>
<rect x="817.14" y="831.36" width="20.50" height="47.04" fill="#DDF23E"/>
<text x="827.39" y="822.36" font-size="11" fill="#727272" text-anchor="middle">30</text>
<text transform="translate(826.4 890) rotate(-35)" font-size="11.5" fill="#8c8c8c" text-anchor="end">marzo</text>
<rect x="842.31" y="795.30" width="20.50" height="83.10" fill="#DDF23E"/>
<text x="852.56" y="786.2959999999999" font-size="11" fill="#727272" text-anchor="middle">53</text>
<text transform="translate(851.6 890) rotate(-35)" font-size="11.5" fill="#8c8c8c" text-anchor="end">abril</text>
<rect x="867.48" y="782.75" width="20.50" height="95.65" fill="#DDF23E"/>
<text x="877.73" y="773.752" font-size="11" fill="#727272" text-anchor="middle">61</text>
<text transform="translate(876.7 890) rotate(-35)" font-size="11.5" fill="#8c8c8c" text-anchor="end">mayo</text>
<rect x="892.65" y="803.14" width="20.50" height="75.26" fill="#DDF23E"/>
<text x="902.9" y="794.136" font-size="11" fill="#727272" text-anchor="middle">48</text>
<text transform="translate(901.9 890) rotate(-35)" font-size="11.5" fill="#8c8c8c" text-anchor="end">junio</text>
<rect x="917.82" y="795.30" width="20.50" height="83.10" fill="#DDF23E"/>
<text x="928.0699999999999" y="786.2959999999999" font-size="11" fill="#727272" text-anchor="middle">53</text>
<text transform="translate(927.1 890) rotate(-35)" font-size="11.5" fill="#8c8c8c" text-anchor="end">julio</text>
<rect x="942.99" y="807.84" width="20.50" height="70.56" fill="#DDF23E"/>
<text x="953.24" y="798.8399999999999" font-size="11" fill="#727272" text-anchor="middle">45</text>
<text transform="translate(952.2 890) rotate(-35)" font-size="11.5" fill="#8c8c8c" text-anchor="end">agosto</text>
<rect x="968.16" y="820.38" width="20.50" height="58.02" fill="#DDF23E"/>
<text x="978.41" y="811.384" font-size="11" fill="#727272" text-anchor="middle">37</text>
<text transform="translate(977.4 890) rotate(-35)" font-size="11.5" fill="#8c8c8c" text-anchor="end">septiembre</text>
<rect x="993.33" y="825.09" width="20.50" height="53.31" fill="#DDF23E"/>
<text x="1003.5799999999999" y="816.088" font-size="11" fill="#727272" text-anchor="middle">34</text>
<text transform="translate(1002.6 890) rotate(-35)" font-size="11.5" fill="#8c8c8c" text-anchor="end">octubre</text>
<rect x="1018.50" y="839.20" width="20.50" height="39.20" fill="#DDF23E"/>
<text x="1028.75" y="830.1999999999999" font-size="11" fill="#727272" text-anchor="middle">25</text>
<text transform="translate(1027.8 890) rotate(-35)" font-size="11.5" fill="#8c8c8c" text-anchor="end">noviembre</text>
<rect x="1043.67" y="839.20" width="20.50" height="39.20" fill="#DDF23E"/>
<text x="1053.92" y="830.1999999999999" font-size="11" fill="#727272" text-anchor="middle">25</text>
<text transform="translate(1052.9 890) rotate(-35)" font-size="11.5" fill="#8c8c8c" text-anchor="end">diciembre</text>
<rect x="760.5" y="835.3" width="75.20000000000005" height="13.5" fill="#fff" opacity=".62"/>
<rect x="839.9" y="853.2" width="65.60000000000002" height="13.5" fill="#fff" opacity=".62"/>
<rect x="868.8" y="804.0" width="68.0" height="13.5" fill="#fff" opacity=".62"/>
<rect x="890.5" y="825.7" width="74" height="13.5" fill="#fff" opacity=".62"/>
<rect x="925.5" y="848.4" width="64.29999999999995" height="13.5" fill="#fff" opacity=".62"/>
<rect x="1002.5" y="843.1" width="66.79999999999995" height="13.5" fill="#fff" opacity=".62"/>
<rect x="995.2" y="865.9" width="65.59999999999991" height="13.5" fill="#fff" opacity=".62"/>
<defs><linearGradient id="lg" gradientUnits="userSpaceOnUse" x1="777" y1="0" x2="1054" y2="0"><stop offset="0" stop-color="#C9351F"/><stop offset=".45" stop-color="#DB4A33"/><stop offset=".7" stop-color="#E88A78"/><stop offset="1" stop-color="#F2C4CB"/></linearGradient></defs>
<polyline points="777.0,825.1 802.2,819.1 827.4,857.9 852.6,785.6 877.7,797.7 902.9,823.5 928.1,816.2 953.2,821 978.4,837.9 1003.6,853.6 1028.8,868.5 1053.9,865.1" fill="none" stroke="#F2922C" stroke-width="2.8" opacity=".35" stroke-linejoin="round"/>
<polyline points="777.0,825.1 802.2,819.1 827.4,857.9 852.6,785.6 877.7,797.7 902.9,823.5 928.1,816.2 953.2,821 978.4,837.9 1003.6,853.6 1028.8,868.5 1053.9,865.1" fill="none" stroke="url(#lg)" stroke-width="1.5" stroke-linejoin="round"/>
<text x="762" y="845.8" font-size="11.5" fill="#787878" textLength="72.2" lengthAdjust="spacingAndGlyphs">$1,159,449.00</text>
<text x="841.4" y="863.7" font-size="11.5" fill="#787878" textLength="62.6" lengthAdjust="spacingAndGlyphs">$733,995.16</text>
<text x="870.3" y="814.5" font-size="11.5" fill="#787878" textLength="65.0" lengthAdjust="spacingAndGlyphs">$1,167,437.6</text>
<text x="892" y="836.2" font-size="11.5" fill="#787878" textLength="71" lengthAdjust="spacingAndGlyphs">$1,289,808.25</text>
<text x="927" y="858.9" font-size="11.5" fill="#787878" textLength="61.3" lengthAdjust="spacingAndGlyphs">$792,464.42</text>
<text x="1004" y="853.6" font-size="11.5" fill="#787878" textLength="63.8" lengthAdjust="spacingAndGlyphs">$654,935.74</text>
<text x="996.7" y="876.4" font-size="11.5" fill="#787878" textLength="62.6" lengthAdjust="spacingAndGlyphs">$572,307.48</text>
<text x="1407.8" y="711.7" font-size="14" font-weight="bold" stroke="#141414" stroke-width=".35" fill="#141414" text-anchor="middle" textLength="269" lengthAdjust="spacingAndGlyphs">TENDENCIA DE INCIDENTES REGISTRADOS</text>
<line x1="1190" y1="730" x2="1646.7" y2="730" stroke="#ececec" stroke-width="1"/>
<text x="1171" y="734.2" font-size="12" fill="#7c7c7c" text-anchor="middle" textLength="13.4" lengthAdjust="spacingAndGlyphs">80</text>
<line x1="1190" y1="778.3" x2="1646.7" y2="778.3" stroke="#ececec" stroke-width="1"/>
<text x="1171" y="782.5" font-size="12" fill="#7c7c7c" text-anchor="middle" textLength="13.4" lengthAdjust="spacingAndGlyphs">60</text>
<line x1="1190" y1="826.7" x2="1646.7" y2="826.7" stroke="#ececec" stroke-width="1"/>
<text x="1171" y="830.9000000000001" font-size="12" fill="#7c7c7c" text-anchor="middle" textLength="13.4" lengthAdjust="spacingAndGlyphs">40</text>
<line x1="1190" y1="874.3" x2="1646.7" y2="874.3" stroke="#ececec" stroke-width="1"/>
<text x="1171" y="878.5" font-size="12" fill="#7c7c7c" text-anchor="middle" textLength="13.4" lengthAdjust="spacingAndGlyphs">20</text>
<polyline points="1203.3,816.5 1242.0,814.0 1280.7,850.2 1319.4,794.8 1358.1,775.5 1396.8,806.8 1435.5,794.8 1474.2,814.0 1512.9,833.3 1551.6,840.6 1590.3,862.2 1629.0,862.2" fill="none" stroke="#DA6A80" stroke-width="2.4" stroke-linejoin="round" stroke-linecap="round"/>
<text x="1203.3" y="835.1" font-size="11.5" fill="#6c6c6c" text-anchor="middle" textLength="12.6" lengthAdjust="spacingAndGlyphs">44</text>
<text x="1241.7" y="805.8000000000001" font-size="11.5" fill="#6c6c6c" text-anchor="middle" textLength="12.6" lengthAdjust="spacingAndGlyphs">45</text>
<text x="1280" y="868.4" font-size="11.5" fill="#6c6c6c" text-anchor="middle" textLength="12.6" lengthAdjust="spacingAndGlyphs">30</text>
<text x="1319.3" y="785.8000000000001" font-size="11.5" fill="#6c6c6c" text-anchor="middle" textLength="12.6" lengthAdjust="spacingAndGlyphs">53</text>
<text x="1357.7" y="767.4" font-size="11.5" fill="#6c6c6c" text-anchor="middle" textLength="12.6" lengthAdjust="spacingAndGlyphs">61</text>
<text x="1396.7" y="825.8000000000001" font-size="11.5" fill="#6c6c6c" text-anchor="middle" textLength="12.6" lengthAdjust="spacingAndGlyphs">48</text>
<text x="1435.7" y="785.8000000000001" font-size="11.5" fill="#6c6c6c" text-anchor="middle" textLength="12.6" lengthAdjust="spacingAndGlyphs">53</text>
<text x="1474.3" y="805.8000000000001" font-size="11.5" fill="#6c6c6c" text-anchor="middle" textLength="12.6" lengthAdjust="spacingAndGlyphs">45</text>
<text x="1513.3" y="824.8000000000001" font-size="11.5" fill="#6c6c6c" text-anchor="middle" textLength="12.6" lengthAdjust="spacingAndGlyphs">37</text>
<text x="1551.7" y="831.8000000000001" font-size="11.5" fill="#6c6c6c" text-anchor="middle" textLength="12.6" lengthAdjust="spacingAndGlyphs">34</text>
<text x="1590.7" y="853.1" font-size="11.5" fill="#6c6c6c" text-anchor="middle" textLength="12.6" lengthAdjust="spacingAndGlyphs">25</text>
<text x="1629" y="853.1" font-size="11.5" fill="#6c6c6c" text-anchor="middle" textLength="12.6" lengthAdjust="spacingAndGlyphs">25</text>
<text transform="translate(1201.3 881) rotate(-36)" font-size="11.5" fill="#888888" text-anchor="end">enero</text>
<text transform="translate(1240.0 881) rotate(-36)" font-size="11.5" fill="#888888" text-anchor="end">febrero</text>
<text transform="translate(1278.7 881) rotate(-36)" font-size="11.5" fill="#888888" text-anchor="end">marzo</text>
<text transform="translate(1317.4 881) rotate(-36)" font-size="11.5" fill="#888888" text-anchor="end">abril</text>
<text transform="translate(1356.1 881) rotate(-36)" font-size="11.5" fill="#888888" text-anchor="end">mayo</text>
<text transform="translate(1394.8 881) rotate(-36)" font-size="11.5" fill="#888888" text-anchor="end">junio</text>
<text transform="translate(1433.5 881) rotate(-36)" font-size="11.5" fill="#888888" text-anchor="end">julio</text>
<text transform="translate(1472.2 881) rotate(-36)" font-size="11.5" fill="#888888" text-anchor="end">agosto</text>
<text transform="translate(1510.9 881) rotate(-36)" font-size="11.5" fill="#888888" text-anchor="end">septiembre</text>
<text transform="translate(1549.6 881) rotate(-36)" font-size="11.5" fill="#888888" text-anchor="end">octubre</text>
<text transform="translate(1588.3 881) rotate(-36)" font-size="11.5" fill="#888888" text-anchor="end">noviembre</text>
<text transform="translate(1627.0 881) rotate(-36)" font-size="11.5" fill="#888888" text-anchor="end">diciembre</text>
</svg>
</div></div>

<svg style="position:absolute;left:0;top:0" width="1920" height="1080" viewBox="0 0 1920 1080">
<defs>
<linearGradient id="g1" x1="0.2" y1="0" x2="0.45" y2="1"><stop offset="0" stop-color="#E8BC1C"/><stop offset="1" stop-color="#BF6208"/></linearGradient>
<linearGradient id="g2" x1="0" y1="0" x2="0.5" y2="1"><stop offset="0" stop-color="#F7DD72"/><stop offset="1" stop-color="#E6A50C"/></linearGradient>
<linearGradient id="g3" x1="0" y1="0" x2="0.4" y2="1"><stop offset="0" stop-color="#F8E17A"/><stop offset="1" stop-color="#F2C838"/></linearGradient>
<clipPath id="cc"><rect x="851" y="400" width="100" height="300"/></clipPath>
</defs>
<g opacity=".28"><polygon points="478.50,390.50 538.00,427.50 478.50,464.50 419.00,427.50" fill="#FFD09E" stroke="#FFD09E" stroke-width=".7" stroke-linejoin="round"/><polygon points="538.00,427.50 597.50,464.50 538.00,501.50 478.50,464.50" fill="#FFA03C" stroke="#FFA03C" stroke-width=".7" stroke-linejoin="round"/><polygon points="419.00,427.50 478.50,464.50 419.00,501.50 359.50,464.50" fill="#FFB868" stroke="#FFB868" stroke-width=".7" stroke-linejoin="round"/><polygon points="478.50,464.50 538.00,501.50 478.50,538.50 419.00,501.50" fill="#FF780A" stroke="#FF780A" stroke-width=".7" stroke-linejoin="round"/><polygon points="359.50,464.50 419.00,501.50 419.00,577.00 359.50,540.00" fill="#3DDDD5" stroke="#3DDDD5" stroke-width=".7" stroke-linejoin="round"/><polygon points="419.00,501.50 478.50,538.50 478.50,614.00 419.00,577.00" fill="#09A29A" stroke="#09A29A" stroke-width=".7" stroke-linejoin="round"/><polygon points="359.50,540.00 419.00,577.00 419.00,652.50 359.50,615.50" fill="#0A9691" stroke="#0A9691" stroke-width=".7" stroke-linejoin="round"/><polygon points="419.00,577.00 478.50,614.00 478.50,689.50 419.00,652.50" fill="#0A6965" stroke="#0A6965" stroke-width=".7" stroke-linejoin="round"/><polygon points="478.50,538.50 538.00,501.50 538.00,577.00 478.50,614.00" fill="#28705E" stroke="#28705E" stroke-width=".7" stroke-linejoin="round"/><polygon points="538.00,501.50 597.50,464.50 597.50,540.00 538.00,577.00" fill="#28745E" stroke="#28745E" stroke-width=".7" stroke-linejoin="round"/><polygon points="478.50,614.00 538.00,577.00 538.00,652.50 478.50,689.50" fill="#2A2E35" stroke="#2A2E35" stroke-width=".7" stroke-linejoin="round"/><polygon points="538.00,577.00 597.50,540.00 597.50,615.50 538.00,652.50" fill="#2A6248" stroke="#2A6248" stroke-width=".7" stroke-linejoin="round"/></g>
<g fill="rgb(40,40,40)" opacity=".26"><g clip-path="url(#cc)"><path d="M871.7 494.1 A72 72 0 1 0 871.7 586.7 L853.3 571.3 A48 48 0 1 1 853.3 509.5 Z"/></g><path fill-rule="evenodd" d="M904.7 540.4 a72 72 0 1 0 144 0 a72 72 0 1 0 -144 0 Z M928.7 540.4 a48 48 0 1 1 96 0 a48 48 0 1 1 -96 0 Z"/><path fill-rule="evenodd" d="M1073 468 H1121 A72 72 0 0 1 1121 612 H1073 Z M1097 492 V588 H1121 A48 48 0 0 0 1121 492 Z"/><rect x="1218" y="467.8" width="24" height="144"/><path d="M1266.7 468 H1290.5 V588 H1327 A36 36 0 0 0 1363 552 V468 H1387 V552 A60 60 0 0 1 1327 612 H1266.7 Z"/><path d="M1411.7 611.8 V467.6 H1435.5 L1483.3 540.8 L1531.7 467.6 H1555.5 V611.8 H1532.5 V513 L1483.3 583.3 L1434.7 513 V611.8 Z"/></g>
<path d="M1711.2 134.5 V53.2 a3.2 3.2 0 0 1 3.2 -3.2 h23.1 a3.2 3.2 0 0 1 3.2 3.2 v78.1 a3.2 3.2 0 0 1 -3.2 3.2 Z" fill="url(#g1)"/>
<path d="M1694 134.5 V74.4 a3.2 3.2 0 0 1 3.2 -3.2 h22.8 a3.2 3.2 0 0 1 3.2 3.2 V134.5 Z" fill="url(#g2)"/>
<path d="M1680.2 134.5 a3.2 3.2 0 0 1 -3.2 -3.2 V95.7 a3.2 3.2 0 0 1 3.2 -3.2 h22.8 a3.2 3.2 0 0 1 3.2 3.2 V134.5 Z" fill="url(#g3)"/>
<polygon points="1719.30,911.90 1740.70,924.90 1719.30,937.90 1697.90,924.90" fill="#FFD09E" stroke="#FFD09E" stroke-width=".7" stroke-linejoin="round"/><polygon points="1740.70,924.90 1762.10,937.90 1740.70,950.90 1719.30,937.90" fill="#FFA03C" stroke="#FFA03C" stroke-width=".7" stroke-linejoin="round"/><polygon points="1697.90,924.90 1719.30,937.90 1697.90,950.90 1676.50,937.90" fill="#FFB868" stroke="#FFB868" stroke-width=".7" stroke-linejoin="round"/><polygon points="1719.30,937.90 1740.70,950.90 1719.30,963.90 1697.90,950.90" fill="#FF780A" stroke="#FF780A" stroke-width=".7" stroke-linejoin="round"/><polygon points="1676.50,937.90 1697.90,950.90 1697.90,977.20 1676.50,964.20" fill="#3DDDD5" stroke="#3DDDD5" stroke-width=".7" stroke-linejoin="round"/><polygon points="1697.90,950.90 1719.30,963.90 1719.30,990.20 1697.90,977.20" fill="#09A29A" stroke="#09A29A" stroke-width=".7" stroke-linejoin="round"/><polygon points="1676.50,964.20 1697.90,977.20 1697.90,1003.50 1676.50,990.50" fill="#0A9691" stroke="#0A9691" stroke-width=".7" stroke-linejoin="round"/><polygon points="1697.90,977.20 1719.30,990.20 1719.30,1016.50 1697.90,1003.50" fill="#0A6965" stroke="#0A6965" stroke-width=".7" stroke-linejoin="round"/><polygon points="1719.30,963.90 1740.70,950.90 1740.70,977.20 1719.30,990.20" fill="#28705E" stroke="#28705E" stroke-width=".7" stroke-linejoin="round"/><polygon points="1740.70,950.90 1762.10,937.90 1762.10,964.20 1740.70,977.20" fill="#28745E" stroke="#28745E" stroke-width=".7" stroke-linejoin="round"/><polygon points="1719.30,990.20 1740.70,977.20 1740.70,1003.50 1719.30,1016.50" fill="#2A2E35" stroke="#2A2E35" stroke-width=".7" stroke-linejoin="round"/><polygon points="1740.70,977.20 1762.10,964.20 1762.10,990.50 1740.70,1003.50" fill="#2A6248" stroke="#2A6248" stroke-width=".7" stroke-linejoin="round"/>
</svg>

</body></html>
